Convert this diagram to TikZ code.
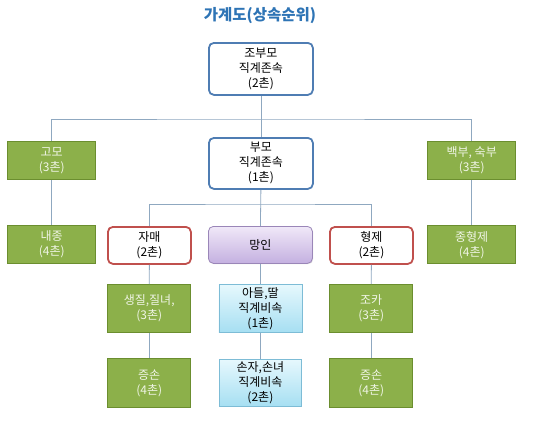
\documentclass[tikz,border=0pt]{standalone}
\usepackage{fontspec}
\setmainfont{Noto Sans CJK KR}
\usetikzlibrary{shadows}
\definecolor{bluebd}{HTML}{4F7DB3}
\definecolor{redbd}{HTML}{C0504D}
\definecolor{greenfill}{HTML}{8CB04A}
\definecolor{greenbd}{HTML}{6B8E2F}
\definecolor{greentext}{HTML}{F0F5E6}
\definecolor{linec}{HTML}{8FA8C0}
\definecolor{titlec}{HTML}{2E74B5}
\definecolor{purtop}{HTML}{F0E8F8}
\definecolor{purbot}{HTML}{C4B0E0}
\definecolor{purbd}{HTML}{9A86B8}
\definecolor{cyantop}{HTML}{E6F8FD}
\definecolor{cyanbot}{HTML}{A6DFF2}
\definecolor{cyanbd}{HTML}{7DBCD6}
\tikzset{
  box/.style={anchor=north west, inner sep=0pt, align=center, font=\fontsize{12}{15}\selectfont},
  bluebox/.style={box, draw=bluebd, line width=1.8pt, fill=white, rounded corners=5pt},
  redbox/.style={box, draw=redbd, line width=1.8pt, fill=white, rounded corners=5pt},
  greenbox/.style={box, draw=greenbd, line width=1.4pt, fill=greenfill, text=greentext},
  purbox/.style={box, draw=purbd, line width=0.8pt, top color=purtop, bottom color=purbot, rounded corners=5pt, drop shadow={shadow xshift=0.8pt, shadow yshift=-0.8pt, opacity=0.25}},
  cyanbox/.style={box, draw=cyanbd, line width=0.8pt, top color=cyantop, bottom color=cyanbot, drop shadow={shadow xshift=0.8pt, shadow yshift=-0.8pt, opacity=0.25}},
  conn/.style={draw=linec, line width=0.8pt}
}
\begin{document}
\begin{tikzpicture}[x=1pt,y=-1pt]
\useasboundingbox (0,0) rectangle (540,423);
\node[font=\fontsize{15.5}{18}\selectfont\bfseries, text=titlec] (title) at (260,16) {가계도(상속순위)};
% boxes
\node[bluebox, minimum width=104pt, minimum height=52pt] (jbm) at (208,42) {조부모\\직계존속\\(2촌)};
\node[bluebox, minimum width=104pt, minimum height=51pt] (bm) at (208,137) {부모\\직계존속\\(1촌)};
\node[greenbox, minimum width=88pt, minimum height=38pt] (gomo) at (7,141) {고모\\(3촌)};
\node[greenbox, minimum width=88pt, minimum height=38pt] (baekbu) at (427,141) {백부, 숙부\\(3촌)};
\node[greenbox, minimum width=88pt, minimum height=38pt] (naejong) at (7,225) {내종\\(4촌)};
\node[greenbox, minimum width=88pt, minimum height=38pt] (jonghj) at (427,225) {종형제\\(4촌)};
\node[redbox, minimum width=83pt, minimum height=37pt] (jamae) at (107,226) {자매\\(2촌)};
\node[purbox, minimum width=104pt, minimum height=37pt] (mangin) at (208,226) {망인};
\node[redbox, minimum width=83pt, minimum height=37pt] (hyeongje) at (329,226) {형제\\(2촌)};
\node[greenbox, minimum width=83pt, minimum height=48pt] (saengjil) at (107,284) {생질,질녀,\\(3촌)};
\node[cyanbox, minimum width=83pt, minimum height=48pt] (adeul) at (218.5,284) {아들,딸\\직계비속\\(1촌)};
\node[greenbox, minimum width=83pt, minimum height=48pt] (joka) at (329,284) {조카\\(3촌)};
\node[greenbox, minimum width=83pt, minimum height=49pt] (jeungL) at (107,358) {증손\\(4촌)};
\node[cyanbox, minimum width=82pt, minimum height=47pt] (sonja) at (219,359) {손자,손녀\\직계비속\\(2촌)};
\node[greenbox, minimum width=83pt, minimum height=49pt] (jeungR) at (329,358) {증손\\(4촌)};
% connectors
\coordinate (h1) at (260,119);
\coordinate (h2) at (260,204);
\path[conn] (jbm.south) -- (bm.north);
\path[conn] (gomo.north) |- (h1) -| (baekbu.north);
\path[conn] (gomo.south) -- (naejong.north);
\path[conn] (baekbu.south) -- (jonghj.north);
\path[conn] (bm.south) -- (mangin.north);
\path[conn] (jamae.north) |- (h2) -| (hyeongje.north);
\path[conn] (jamae.south) -- (saengjil.north);
\path[conn] (saengjil.south) -- (jeungL.north);
\path[conn] (mangin.south) -- (adeul.north);
\path[conn] (adeul.south) -- (sonja.north);
\path[conn] (hyeongje.south) -- (joka.north);
\path[conn] (joka.south) -- (jeungR.north);
\end{tikzpicture}
\end{document}
